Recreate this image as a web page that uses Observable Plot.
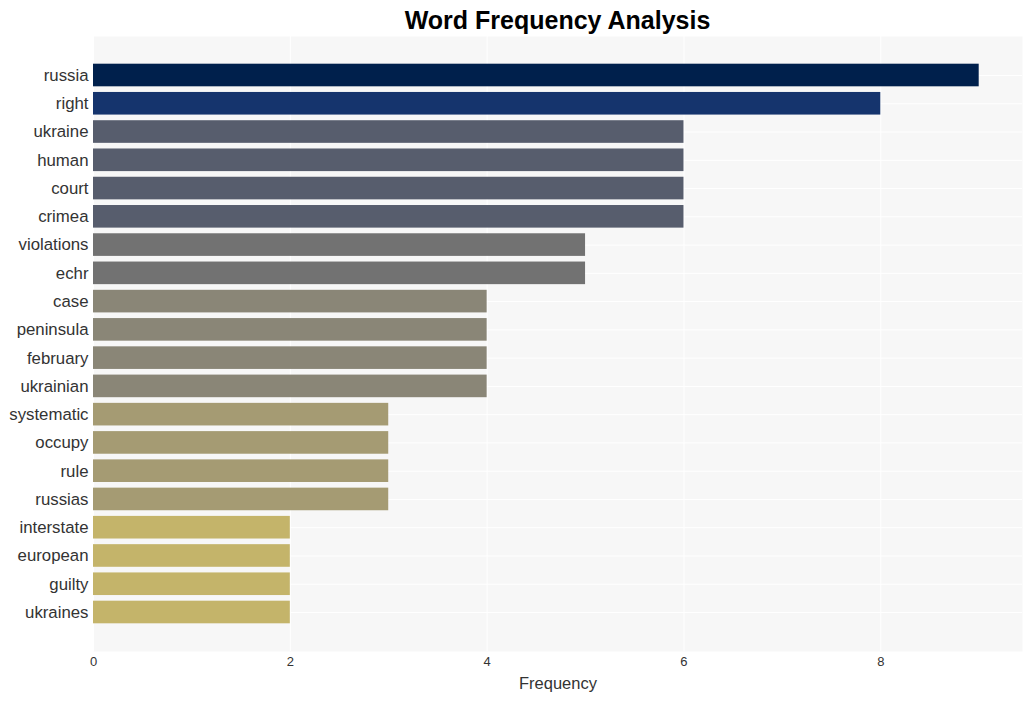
<!DOCTYPE html>
<html>
<head>
<meta charset="utf-8">
<script src="https://cdn.jsdelivr.net/npm/d3@7"></script>
<script src="https://cdn.jsdelivr.net/npm/@observablehq/plot@0.6"></script>
<style>
  body { margin: 0; background: #fff; font-family: "Liberation Sans", Arial, sans-serif; }
  #title { height: 36px; line-height: 40px; text-align: center; font-weight: bold; font-size: 25px; color: #000; width: 929px; margin-left: 93px; }
</style>
</head>
<body>
<div id="title">Word Frequency Analysis</div>
<div id="chart"></div>
<script>
const words = ["russia","right","ukraine","human","court","crimea","violations","echr","case","peninsula","february","ukrainian","systematic","occupy","rule","russias","interstate","european","guilty","ukraines"];
const counts = [9,8,6,6,6,6,5,5,4,4,4,4,3,3,3,3,2,2,2,2];
const xTicks = [0,2,4,6,8];
const colorValues = [2,3,4,5,6,8,9];
const colorRange = ["#c4b46a","#a59b73","#8a8677","#727272","#575d6d","#15346d","#00204c"];

const data = words.map((w, i) => ({word: w, count: counts[i]}));

const chart = Plot.plot({
  width: 1033,
  height: 665,
  marginTop: 0,
  marginBottom: 50,
  marginLeft: 93,
  marginRight: 11,
  style: {fontFamily: "Liberation Sans, Arial, sans-serif", background: "#fff"},
  x: {domain: [0, 9.44]},
  y: {domain: words, paddingInner: 0.2, paddingOuter: 0.98, round: false},
  color: {type: "ordinal", domain: colorValues, range: colorRange},
  marks: [
    Plot.frame({fill: "#f7f7f7", stroke: null}),
    Plot.gridX(xTicks, {stroke: "#fff", strokeOpacity: 1, strokeWidth: 1}),
    Plot.gridY({stroke: "#fff", strokeOpacity: 1, strokeWidth: 1}),
    Plot.barX(data, {x: "count", y: "word", fill: d => d.count}),
    Plot.axisY({tickSize: 0, tickPadding: 5, fontSize: 16.8, label: null, fill: "#333"}),
    Plot.axisX({ticks: xTicks, tickSize: 0, tickPadding: 5, fontSize: 13, fill: "#333",
      label: "Frequency", labelAnchor: "center", labelArrow: "none", labelOffset: 37})
  ]
});
chart.querySelectorAll("g[aria-label='x-axis label'] text").forEach(t => t.setAttribute("font-size", 16.5));
document.getElementById("chart").appendChild(chart);
</script>
</body>
</html>
